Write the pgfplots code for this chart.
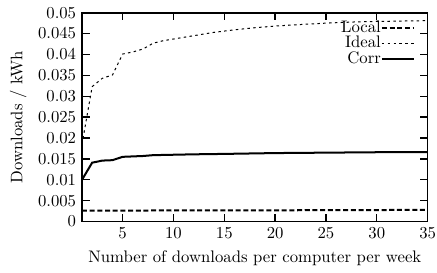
\documentclass[border=0pt]{standalone}
\usepackage{pgfplots}
\pgfplotsset{compat=1.18}
\begin{document}
\begin{tikzpicture}
\begin{axis}[
  scale only axis, width=207pt, height=125.1pt,
  xmin=1, xmax=35, ymin=0, ymax=0.05,
  xtick={5,10,15,20,25,30,35},
  ytick={0,0.005,0.01,0.015,0.02,0.025,0.03,0.035,0.04,0.045,0.05},
  scaled y ticks=false,
  yticklabel style={/pgf/number format/fixed, /pgf/number format/precision=3},
  tick align=inside, major tick length=4.5pt,
  every tick/.style={black, line width=0.8pt},
  axis line style={line width=1pt},
  xlabel={Number of downloads per computer per week},
  ylabel={Downloads / kWh},
  xlabel style={at={(rel axis cs:0.5,0)}, anchor=base, yshift=-24.7pt},
  legend image code/.code={\draw[#1] (0pt,0pt) -- (19pt,0pt);},
  legend cell align=right,
  legend plot pos=right,
  legend style={draw=none, fill=none, at={(rel axis cs:1,1)}, anchor=north east,
    xshift=-7.6pt, yshift=-4.5pt, inner sep=0pt, row sep=0.9pt,
    nodes={inner sep=0pt},
    /tikz/every even column/.style={column sep=2.4pt}},
]
\addplot[black, line width=1.2pt, dash pattern=on 3pt off 1.6pt] coordinates {
(1,0.0026) (5,0.0026) (10,0.0027) (20,0.0027) (35,0.0028)};
\addlegendentry{Local}
\addplot[black, line width=0.6pt, dash pattern=on 1.5pt off 2pt] coordinates {
(1,0.0185) (2,0.0323) (3,0.0343) (4,0.0351) (5,0.0401) (6,0.0406) (7,0.0413) (8,0.0427) (9,0.0433) (10,0.0437) (11,0.0441) (12,0.0445) (13,0.0449) (14,0.0453) (15,0.0456) (16,0.0459) (18,0.0464) (20,0.0468) (22,0.0471) (25,0.0475) (28,0.0478) (30,0.0479) (35,0.0481)};
\addlegendentry{Ideal}
\addplot[black, line width=1.2pt] coordinates {
(1,0.0100) (2,0.0141) (3,0.0146) (4,0.0147) (5,0.0155) (6,0.0156) (7,0.0157) (8,0.0159) (10,0.0160) (12,0.0161) (15,0.0162) (20,0.0164) (25,0.0165) (30,0.0166) (35,0.0166)};
\addlegendentry{Corr}
\end{axis}
\pgfresetboundingbox
\path[use as bounding box] ([shift={(-49.1pt,-30.7pt)}]current axis.south west) rectangle ([shift={(5.6pt,7.6pt)}]current axis.north east);
\end{tikzpicture}
\end{document}
